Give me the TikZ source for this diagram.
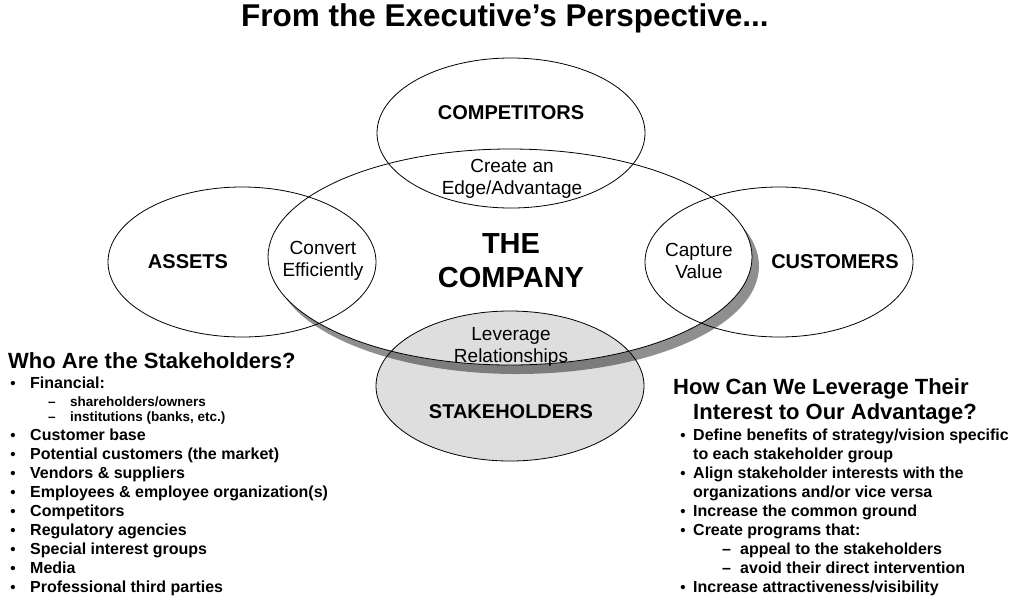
\documentclass[tikz,border=0pt]{standalone}
\usepackage{fontspec}
\setmainfont{Liberation Sans}
\definecolor{shadowgray}{HTML}{8F8F8F}
\begin{document}
\begin{tikzpicture}[x=1pt,y=-1pt,
    ring/.style={draw=black,line width=0.8pt},
    bigword/.style={font=\fontsize{20}{22}\selectfont\bfseries},
    lenstext/.style={font=\fontsize{19}{22}\selectfont,align=center},
    head/.style={anchor=base west,inner sep=0pt,font=\fontsize{22}{25}\selectfont\bfseries},
    item/.style={anchor=base west,inner sep=0pt,font=\fontsize{16}{18}\selectfont\bfseries},
    subitem/.style={anchor=base west,inner sep=0pt,font=\fontsize{13.5}{15}\selectfont\bfseries},
    bul/.style={anchor=base,inner sep=0pt,font=\fontsize{15}{18}\selectfont\bfseries}]
    \useasboundingbox (0,0) rectangle (1025,603);
    % shadow and fills
    \fill[shadowgray] (517,266) ellipse [x radius=242pt,y radius=108pt];
    \fill[white] (510,257) ellipse [x radius=242pt,y radius=108pt];
    \fill[black,fill opacity=0.13] (510,386) ellipse [x radius=134pt,y radius=75pt];
    % outlines
    \draw[ring] (510,257) ellipse [x radius=242pt,y radius=108pt];
    \draw[ring] (511,133) ellipse [x radius=134pt,y radius=75pt];
    \draw[ring] (242,262) ellipse [x radius=134pt,y radius=75pt];
    \draw[ring] (779,262) ellipse [x radius=134pt,y radius=75pt];
    \draw[ring] (510,386) ellipse [x radius=134pt,y radius=75pt];
    % labels
    \node[font=\fontsize{31.5}{36}\selectfont\bfseries] (title) at (505,18) {From the Executive’s Perspective...};
    \node[bigword] (competitors) at (511,113) {COMPETITORS};
    \node[lenstext] (edge) at (512,179) {Create an\\Edge/Advantage};
    \node[bigword] (assets) at (188,262) {ASSETS};
    \node[lenstext] (convert) at (323,261) {Convert\\Efficiently};
    \node[font=\fontsize{29}{34}\selectfont\bfseries,align=center] (company) at (511,261) {THE\\COMPANY};
    \node[lenstext] (capture) at (699,261) {Capture\\Value};
    \node[bigword] (customers) at (835,262) {CUSTOMERS};
    \node[lenstext] (leverage) at (511,347) {Leverage\\Relationships};
    \node[bigword] (stakeholders) at (511,412) {STAKEHOLDERS};
    % who are the stakeholders
    \node[head] (whohead) at (8,368) {Who Are the Stakeholders?};
    \foreach \y/\t [count=\i] in {388/Financial:,440/Customer base,459/Potential customers (the market),
        478/Vendors \& suppliers,497/Employees \& employee organization(s),516/Competitors,
        535/Regulatory agencies,554/Special interest groups,573/Media,592/Professional third parties}
    {
        \node[bul] (wb\i) at (13,\y) {•};
        \node[item] (wi\i) at (30,\y) {\t};
    }
    \foreach \y/\t [count=\i] in {406/{shareholders/owners},421/{institutions (banks, etc.)}}
    {
        \node[subitem] (wd\i) at (48,\y) {–};
        \node[subitem] (ws\i) at (70,\y) {\t};
    }
    % how can we leverage
    \node[head] (howhead) at (673,394) {How Can We Leverage Their};
    \node[head] (howhead2) at (693,419) {Interest to Our Advantage?};
    \foreach \y/\t [count=\i] in {440/{Define benefits of strategy/vision specific},478/Align stakeholder interests with the,
        516/Increase the common ground,535/Create programs that:,592/{Increase attractiveness/visibility}}
    {
        \node[bul] (hb\i) at (683,\y) {•};
        \node[item] (hi\i) at (693,\y) {\t};
    }
    \node[item] (hc1) at (693,459) {to each stakeholder group};
    \node[item] (hc2) at (693,497) {organizations and/or vice versa};
    \foreach \y/\t [count=\i] in {554/appeal to the stakeholders,573/avoid their direct intervention}
    {
        \node[item] (hd\i) at (722,\y) {–};
        \node[item] (hs\i) at (740,\y) {\t};
    }
\end{tikzpicture}
\end{document}
